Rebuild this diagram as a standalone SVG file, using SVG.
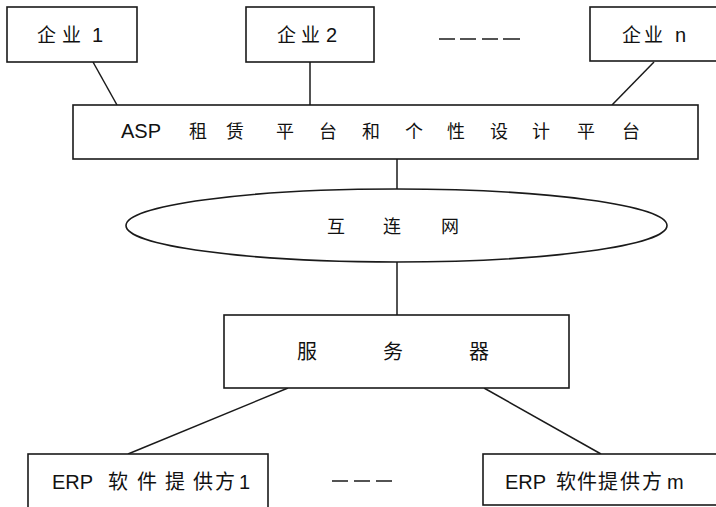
<svg xmlns="http://www.w3.org/2000/svg" width="716" height="507" viewBox="0 0 716 507">
<style>
.box{fill:#fff;stroke:#1a1a1a;stroke-width:1.6}
.ln{stroke:#1a1a1a;stroke-width:1.5;fill:none}
.t{font-family:"Noto Sans CJK SC","Liberation Sans",sans-serif;font-size:19px;fill:#111}
.t2{font-family:"Noto Sans CJK SC","Liberation Sans",sans-serif;font-size:18px;fill:#111}
.t3{font-family:"Noto Sans CJK SC","Liberation Sans",sans-serif;font-size:20px;fill:#111}
.la{font-family:"Liberation Sans",Arial,sans-serif;font-size:20px}
</style>
<rect width="716" height="507" fill="#fff"/>
<g id="connectors">
<line class="ln" x1="93" y1="62" x2="117" y2="105"/>
<line class="ln" x1="310" y1="62" x2="310" y2="105"/>
<line class="ln" x1="654" y1="62" x2="612" y2="105"/>
<line class="ln" x1="397" y1="159" x2="397" y2="189"/>
<line class="ln" x1="397" y1="262" x2="397" y2="315"/>
<line class="ln" x1="288" y1="388" x2="128" y2="454"/>
<line class="ln" x1="484" y1="388" x2="601" y2="454"/>
<line class="ln" x1="439" y1="39" x2="455" y2="39"/>
<line class="ln" x1="460" y1="39" x2="476" y2="39"/>
<line class="ln" x1="482" y1="39" x2="498" y2="39"/>
<line class="ln" x1="503" y1="39" x2="520" y2="39"/>
<line class="ln" x1="332" y1="481" x2="348" y2="481"/>
<line class="ln" x1="354" y1="481" x2="370" y2="481"/>
<line class="ln" x1="376" y1="481" x2="392" y2="481"/>
</g>
<g id="qiye1">
<rect class="box" x="7" y="7" width="130" height="55"/>
<text class="t" y="42"><tspan x="37">企</tspan><tspan x="62">业</tspan><tspan class="la" x="92">1</tspan></text>
</g>
<g id="qiye2">
<rect class="box" x="246" y="7" width="128" height="55"/>
<text class="t" y="42"><tspan x="277">企</tspan><tspan x="301">业</tspan><tspan class="la" x="326">2</tspan></text>
</g>
<g id="qiyen">
<rect class="box" x="590" y="7" width="140" height="54"/>
<text class="t" y="42"><tspan x="622">企</tspan><tspan x="644">业</tspan><tspan class="la" x="675">n</tspan></text>
</g>
<g id="asp">
<rect class="box" x="73" y="105" width="625" height="54"/>
<text class="t2" y="138"><tspan class="la" x="121">ASP</tspan><tspan x="189">租</tspan><tspan x="226">赁</tspan><tspan x="276">平</tspan><tspan x="319">台</tspan><tspan x="362">和</tspan><tspan x="405">个</tspan><tspan x="447">性</tspan><tspan x="490">设</tspan><tspan x="532">计</tspan><tspan x="577">平</tspan><tspan x="622">台</tspan></text>
</g>
<g id="internet">
<ellipse class="box" cx="396.5" cy="225.5" rx="270.5" ry="36.5"/>
<text class="t2" y="233"><tspan x="327">互</tspan><tspan x="383">连</tspan><tspan x="441">网</tspan></text>
</g>
<g id="server">
<rect class="box" x="224" y="315" width="345" height="73"/>
<text class="t3" y="359"><tspan x="297">服</tspan><tspan x="383">务</tspan><tspan x="469">器</tspan></text>
</g>
<g id="erp1">
<rect class="box" x="28" y="454" width="240" height="60"/>
<text class="t3" y="489"><tspan class="la" x="52">ERP</tspan><tspan x="108">软</tspan><tspan x="137">件</tspan><tspan x="165">提</tspan><tspan x="193">供</tspan><tspan x="215">方</tspan><tspan class="la" x="239">1</tspan></text>
</g>
<g id="erpm">
<rect class="box" x="483" y="454" width="245" height="51"/>
<text class="t3" y="489"><tspan class="la" x="505">ERP</tspan><tspan x="556">软</tspan><tspan x="577">件</tspan><tspan x="598">提</tspan><tspan x="620">供</tspan><tspan x="642">方</tspan><tspan class="la" x="667">m</tspan></text>
</g>
</svg>
